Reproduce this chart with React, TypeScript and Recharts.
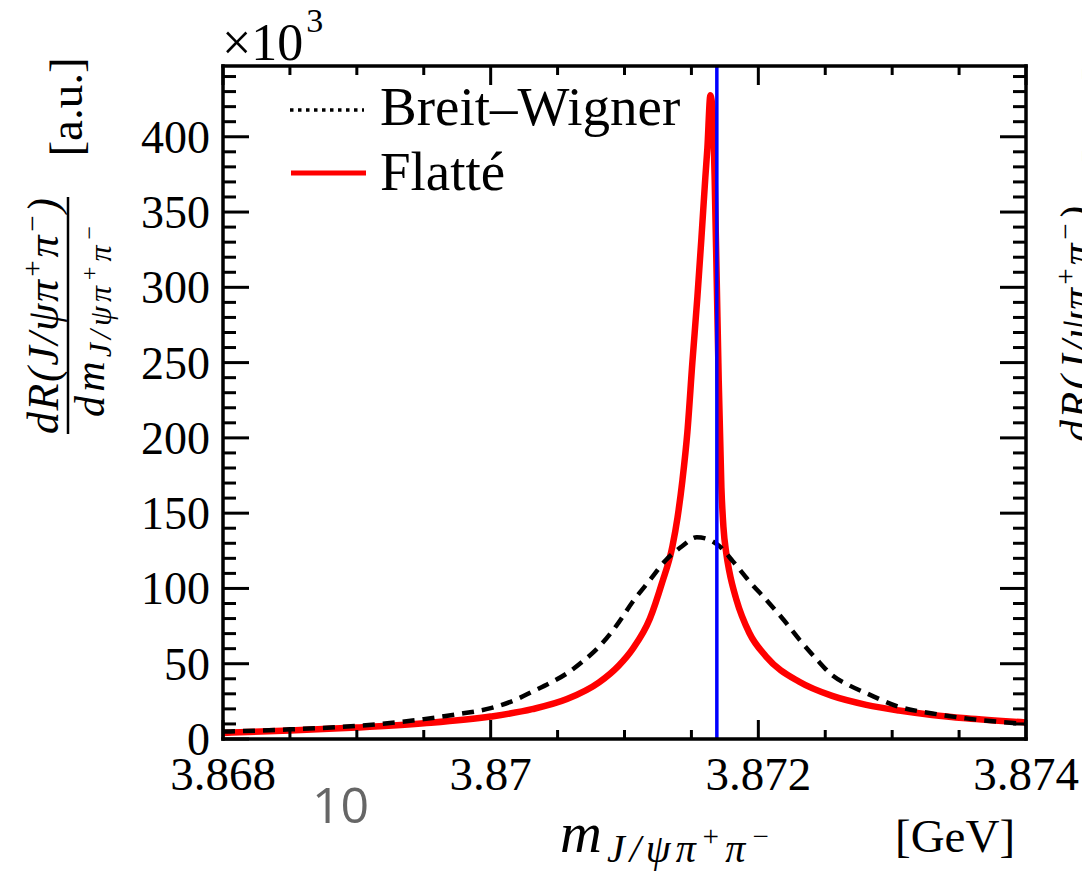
import { LineChart, Line, XAxis, YAxis, ReferenceLine, Legend } from 'recharts';

// mass points [GeV] and rates [x10^3 a.u.]
const flatteMass = [3.868, 3.8685, 3.869, 3.8695, 3.87, 3.87031, 3.87057, 3.87081, 3.87096, 3.87106, 3.87119, 3.87128, 3.871358, 3.871396, 3.871433, 3.87147, 3.871507, 3.871545, 3.871575, 3.871604, 3.871619, 3.871642, 3.871659, 3.871674, 3.871689, 3.871704, 3.871724, 3.871739, 3.871761, 3.871784, 3.871836, 3.871933, 3.87206, 3.872306, 3.872552, 3.872806, 3.873052, 3.873299, 3.873552, 3.874];
const flatteRate = [4.05, 5.6, 7.6, 10.4, 14.9, 19.8, 26.5, 37.6, 49, 59.7, 80, 103.6, 128, 147, 172, 204, 250, 294, 333, 373, 392, 427.6, 416, 371, 305, 238, 167, 141, 123, 111, 92.6, 70.4, 54.6, 38, 28.6, 22.7, 18.9, 16, 13.8, 11];

const bwMass = [3.868, 3.8685, 3.869, 3.8695, 3.86975, 3.87, 3.8702, 3.87031, 3.87044, 3.87057, 3.8707, 3.87081, 3.87094, 3.87106, 3.87119, 3.87131, 3.87143, 3.87154, 3.87162, 3.87171, 3.87181, 3.87193, 3.87206, 3.87219, 3.87231, 3.87243, 3.87255, 3.87268, 3.87281, 3.87305, 3.8733, 3.87355, 3.874];
const bwRate = [4.9, 6.4, 8.7, 13.2, 16.4, 20.5, 26.6, 31.4, 37, 43.6, 52.4, 61.3, 75.3, 91, 105.6, 118.9, 128, 134, 132.8, 128, 118, 105, 92.3, 79, 65.7, 53.5, 42.5, 35.6, 30.3, 21.4, 17, 13.7, 10];

const threshold = 3.87169;

const xMajor = [3.868, 3.87, 3.872, 3.874];
const xTicks = [3.868, 3.8685, 3.869, 3.8695, 3.87, 3.8705, 3.871, 3.8715, 3.872, 3.8725, 3.873, 3.8735, 3.874];
const yMajor = [0, 50, 100, 150, 200, 250, 300, 350, 400];
const yTicks = [0, 10, 20, 30, 40, 50, 60, 70, 80, 90, 100, 110, 120, 130, 140, 150, 160, 170, 180, 190, 200, 210, 220, 230, 240, 250, 260, 270, 280, 290, 300, 310, 320, 330, 340, 350, 360, 370, 380, 390, 400, 410, 420, 430, 440];

const flatteData = flatteMass.map((m, i) => ({ m, v: flatteRate[i] }));
const bwData = bwMass.map((m, i) => ({ m, v: bwRate[i] }));

const serif = '"Liberation Serif", "Times New Roman", serif';
const W = 1082;
const H = 871;

const isIn = (arr: number[], v: number) => arr.some((a) => Math.abs(a - v) < 1e-9);

function BottomTick(props: any) {
  const { x, y, payload } = props;
  const major = isIn(xMajor, payload.value);
  return (
    <g>
      <line x1={x} x2={x} y1={y} y2={y - (major ? 19 : 9)} stroke="#000" strokeWidth={3} />
      {major && (
        <text x={x} y={y + 51} textAnchor="middle" fontSize={47} fontFamily={serif} fill="#000">
          {String(payload.value)}
        </text>
      )}
    </g>
  );
}

function TopTick(props: any) {
  const { x, y, payload } = props;
  const major = isIn(xMajor, payload.value);
  return <line x1={x} x2={x} y1={y} y2={y + (major ? 19 : 9)} stroke="#000" strokeWidth={3} />;
}

function LeftTick(props: any) {
  const { x, y, payload } = props;
  const major = isIn(yMajor, payload.value);
  return (
    <g>
      <line x1={x} x2={x + (major ? 26 : 13)} y1={y} y2={y} stroke="#000" strokeWidth={3} />
      {major && (
        <text x={x - 13} y={y + 16} textAnchor="end" fontSize={46} fontFamily={serif} fill="#000">
          {payload.value}
        </text>
      )}
    </g>
  );
}

function RightTick(props: any) {
  const { x, y, payload } = props;
  const major = isIn(yMajor, payload.value);
  return <line x1={x} x2={x - (major ? 26 : 13)} y1={y} y2={y} stroke="#000" strokeWidth={3} />;
}

function LegendBox() {
  return (
    <svg width={470} height={130} style={{ display: 'block' }}>
      <line x1={10} x2={84} y1={30} y2={30} stroke="#000" strokeWidth={3.5} strokeDasharray="3.5 4.5" />
      <text x={100} y={45} fontSize={55} fontFamily={serif} fill="#000">Breit–Wigner</text>
      <line x1={11} x2={86} y1={93} y2={93} stroke="#ff0000" strokeWidth={5} />
      <text x={100} y={110} fontSize={55} fontFamily={serif} fill="#000">Flatté</text>
    </svg>
  );
}

function YTitle({ dx = 0, dy = 0 }: { dx?: number; dy?: number }) {
  return (
    <g transform={`translate(${dx}, ${dy})`} fontFamily={serif} fill="#000">
      <g transform="translate(58, 316) rotate(-90)">
        <text textAnchor="middle" fontSize={44} fontStyle="italic" textLength={236}>
          dR(J/ψπ<tspan dy={-16} fontSize={29}>+</tspan><tspan dy={16}>π</tspan><tspan dy={-16} fontSize={29}>−</tspan><tspan dy={16}>)</tspan>
        </text>
      </g>
      <line x1={68} x2={68} y1={197} y2={434} stroke="#000" strokeWidth={2.5} />
      <g transform="translate(104, 321) rotate(-90)">
        <text textAnchor="middle" fontSize={42} fontStyle="italic" textLength={192}>
          dm<tspan dy={7} fontSize={32}>J/ψπ</tspan><tspan dy={-14} fontSize={24}>+</tspan><tspan dy={14} fontSize={32}>π</tspan><tspan dy={-14} fontSize={24}>−</tspan>
        </text>
      </g>
      <g transform="translate(82, 107) rotate(-90)">
        <text textAnchor="middle" fontSize={47}>[a.u.]</text>
      </g>
    </g>
  );
}

export default function App() {
  return (
    <div style={{ position: 'absolute', left: 0, top: 0, width: W, height: H, overflow: 'hidden', background: '#fff' }}>
      <LineChart width={W} height={H} margin={{ top: 65, right: 55, bottom: 0, left: 0 }}>
        <XAxis
          xAxisId={0}
          type="number"
          dataKey="m"
          domain={[3.868, 3.874]}
          ticks={xTicks}
          interval={0}
          allowDataOverflow
          height={132}
          tickSize={0}
          tickMargin={0}
          tickLine={false}
          tick={BottomTick}
          axisLine={{ stroke: '#000', strokeWidth: 3.5, strokeLinecap: 'square' }}
        />
        <XAxis
          xAxisId="top"
          orientation="top"
          type="number"
          dataKey="m"
          domain={[3.868, 3.874]}
          ticks={xTicks}
          interval={0}
          allowDataOverflow
          height={1}
          tickSize={0}
          tickMargin={0}
          tickLine={false}
          tick={TopTick}
          axisLine={{ stroke: '#000', strokeWidth: 3.5, strokeLinecap: 'square' }}
        />
        <YAxis
          yAxisId={0}
          type="number"
          domain={[0, 447]}
          ticks={yTicks}
          interval={0}
          allowDataOverflow
          width={223}
          tickSize={0}
          tickMargin={0}
          tickLine={false}
          tick={LeftTick}
          axisLine={{ stroke: '#000', strokeWidth: 3.5, strokeLinecap: 'square' }}
        />
        <YAxis
          yAxisId="right"
          orientation="right"
          type="number"
          domain={[0, 447]}
          ticks={yTicks}
          interval={0}
          allowDataOverflow
          width={1}
          tickSize={0}
          tickMargin={0}
          tickLine={false}
          tick={RightTick}
          axisLine={{ stroke: '#000', strokeWidth: 3.5, strokeLinecap: 'square' }}
        />
        <Legend
          layout="vertical"
          align="center"
          verticalAlign="middle"
          content={() => <LegendBox />}
          wrapperStyle={{ left: 280, top: 80, width: 470, height: 130 }}
        />
        <Line
          data={flatteData}
          dataKey="v"
          type="monotone"
          stroke="#ff0000"
          strokeWidth={6.5}
          strokeLinejoin="round"
          strokeLinecap="round"
          dot={false}
          isAnimationActive={false}
        />
        <Line
          data={bwData}
          dataKey="v"
          type="monotone"
          stroke="#000"
          strokeWidth={4.5}
          strokeDasharray="12 8"
          dot={false}
          isAnimationActive={false}
        />
        <ReferenceLine x={threshold} stroke="#0000ff" strokeWidth={3.5} />
      </LineChart>
      <svg width={W} height={H} style={{ position: 'absolute', left: 0, top: 0, pointerEvents: 'none' }}>
        <text x={222} y={60} fontSize={52} fontFamily={serif} fill="#000">
          ×10<tspan dx={3} dy={-28} fontSize={34}>3</tspan>
        </text>
        <YTitle />
        <YTitle dx={1033} dy={8} />
        <text x={560} y={852} fontSize={58} fontStyle="italic" fontFamily={serif} fill="#000" textLength={210}>
          m<tspan dy={10} fontSize={40}>J/ψπ</tspan><tspan dy={-16} fontSize={29}>+</tspan><tspan dy={16} fontSize={40}>π</tspan><tspan dy={-16} fontSize={29}>−</tspan>
        </text>
        <text x={895} y={852} fontSize={47} fontFamily={serif} fill="#000">[GeV]</text>
        <text x={312} y={823} fontSize={50} fontFamily='"Open Sans", sans-serif' fill="#666">10</text>
      </svg>
    </div>
  );
}
